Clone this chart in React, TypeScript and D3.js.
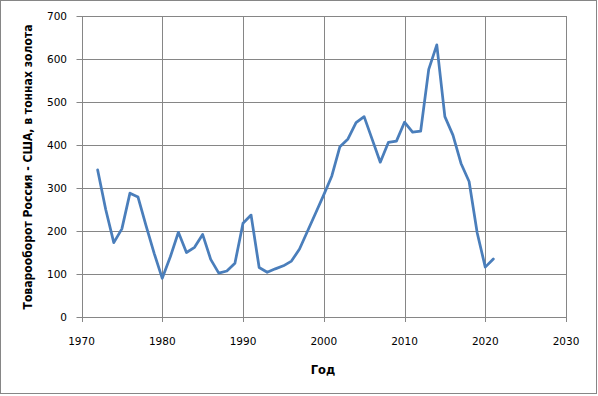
import React, { useEffect, useRef } from 'react';
import * as d3 from 'd3';

const YEARS = [
  1972, 1973, 1974, 1975, 1976, 1977, 1978, 1979, 1980, 1981,
  1982, 1983, 1984, 1985, 1986, 1987, 1988, 1989, 1990, 1991,
  1992, 1993, 1994, 1995, 1996, 1997, 1998, 1999, 2000, 2001,
  2002, 2003, 2004, 2005, 2006, 2007, 2008, 2009, 2010, 2011,
  2012, 2013, 2014, 2015, 2016, 2017, 2018, 2019, 2020, 2021,
];
const TONNES = [
  342, 250, 173, 205, 288, 279, 212, 148, 90, 140,
  197, 150, 162, 192, 134, 102, 107, 125, 218, 237,
  115, 104, 112, 119, 130, 158, 200, 242, 284, 328,
  396, 414, 452, 466, 413, 360, 406, 409, 453, 430,
  432, 576, 633, 466, 423, 357, 315, 196, 116, 135,
];
const X_TICKS = [1970, 1980, 1990, 2000, 2010, 2020, 2030];
const Y_TICKS = [0, 100, 200, 300, 400, 500, 600, 700];

const X_TITLE = 'Год';
const Y_TITLE = 'Товарооборот Россия - США, в тоннах золота';

export default function App() {
  const svgRef = useRef<SVGSVGElement | null>(null);

  useEffect(() => {
    const svgEl = svgRef.current;
    if (!svgEl) return;

    const width = 598;
    const height = 396;
    const svg = d3.select(svgEl);
    svg.selectAll('*').remove();

    const font = "'DejaVu Sans', sans-serif";
    const grey = '#868686';

    const x = d3.scaleLinear().domain([1970, 2030]).range([81.5, 566]);
    const y = d3.scaleLinear().domain([0, 700]).range([317, 16]);

    // outer frame
    svg
      .append('rect')
      .attr('x', 0.5)
      .attr('y', 0.5)
      .attr('width', width - 2)
      .attr('height', height - 3)
      .attr('fill', '#fff')
      .attr('stroke', grey);

    // grid
    const grid = svg.append('g').attr('stroke', grey).attr('stroke-width', 1);
    grid
      .selectAll('line.h')
      .data(Y_TICKS)
      .enter()
      .append('line')
      .attr('x1', x(1970) - 5)
      .attr('x2', x(2030))
      .attr('y1', d => Math.round(y(d)) + 0.5)
      .attr('y2', d => Math.round(y(d)) + 0.5);
    grid
      .selectAll('line.v')
      .data(X_TICKS)
      .enter()
      .append('line')
      .attr('x1', d => Math.round(x(d)) + 0.5)
      .attr('x2', d => Math.round(x(d)) + 0.5)
      .attr('y1', y(700))
      .attr('y2', y(0) + 5);

    // tick labels
    svg
      .append('g')
      .selectAll('text')
      .data(Y_TICKS)
      .enter()
      .append('text')
      .attr('x', 67)
      .attr('y', d => y(d) + 4)
      .attr('text-anchor', 'end')
      .attr('font-family', font)
      .attr('font-size', 10.5)
      .attr('fill', '#000')
      .text(d => d);

    svg
      .append('g')
      .selectAll('text')
      .data(X_TICKS)
      .enter()
      .append('text')
      .attr('x', d => x(d))
      .attr('y', 345)
      .attr('text-anchor', 'middle')
      .attr('font-family', font)
      .attr('font-size', 10.5)
      .attr('fill', '#000')
      .text(d => d);

    // axis titles
    svg
      .append('text')
      .attr('x', 323)
      .attr('y', 374)
      .attr('text-anchor', 'middle')
      .attr('font-family', font)
      .attr('font-size', 11.5)
      .attr('font-weight', 'bold')
      .text(X_TITLE);

    svg
      .append('text')
      .attr('transform', 'translate(32,167) rotate(-90)')
      .attr('text-anchor', 'middle')
      .attr('font-family', font)
      .attr('font-size', 11.5)
      .attr('font-weight', 'bold')
      .attr('textLength', 285)
      .attr('lengthAdjust', 'spacingAndGlyphs')
      .text(Y_TITLE);

    // series
    const data = YEARS.map((yr, i) => ({ yr, v: TONNES[i] }));
    const line = d3
      .line<{ yr: number; v: number }>()
      .x(d => x(d.yr))
      .y(d => y(d.v));

    svg
      .append('path')
      .datum(data)
      .attr('d', line)
      .attr('fill', 'none')
      .attr('stroke', '#4a7ebb')
      .attr('stroke-width', 2.75)
      .attr('stroke-linejoin', 'round')
      .attr('stroke-linecap', 'round');
  }, []);

  return (
    <svg
      ref={svgRef}
      width={598}
      height={396}
      style={{ position: 'absolute', left: 0, top: 0, display: 'block' }}
    />
  );
}
